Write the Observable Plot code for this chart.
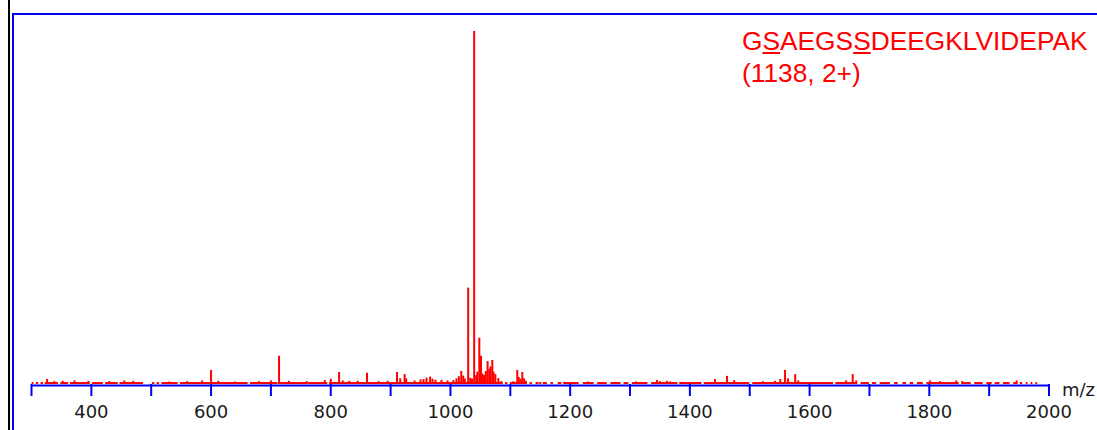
<!DOCTYPE html>
<html><head><meta charset="utf-8">
<script src="https://cdn.jsdelivr.net/npm/d3@7"></script>
<script src="https://cdn.jsdelivr.net/npm/@observablehq/plot@0.6"></script>
<style>
html,body{margin:0;padding:0;background:#fff;}
#wrap{position:relative;width:1097px;height:430px;overflow:hidden;background:#fff;}
#chart{position:absolute;left:0;top:0;}
#chart svg text{font-size:18px;}
.deco{position:absolute;}
#title{position:absolute;left:742px;top:25px;font-family:"Liberation Sans",Arial,sans-serif;font-size:26.3px;color:#ff0000;line-height:32px;white-space:nowrap;}
#title u{text-decoration-thickness:1.5px;text-underline-offset:2px;}
</style></head>
<body>
<div id="wrap">
  <div id="chart"></div>
  <div class="deco" style="left:8px;top:0;width:2px;height:430px;background:#000;"></div>
  <div class="deco" style="left:12px;top:13px;width:2px;height:417px;background:#0000ff;"></div>
  <div class="deco" style="left:12px;top:13px;width:1085px;height:2px;background:#0000ff;"></div>
  <div id="title"></div>
</div>
<script>
// Peptide annotation
const peptide = ["G", "S", "A", "E", "G", "S", "S", "D", "E", "E", "G", "K", "L", "V", "I", "D", "E", "P", "A", "K"];
const underlinedPositions = [1, 6];
const precursorLabel = "(1138, 2+)";
const axisName = ["m/z"];

// Axis ticks
const majorTicks = [300, 400, 500, 600, 700, 800, 900, 1000, 1100, 1200, 1300, 1400, 1500, 1600, 1700, 1800, 1900, 2000];
const tickLabels = [400, 600, 800, 1000, 1200, 1400, 1600, 1800, 2000];
const xExtent = [300, 2000];

// Peak list: m/z and relative intensity %
const peakMz = [
  326, 338, 352, 372, 395, 430, 455, 470, 530, 560, 585, 600, 612, 640, 680, 700, 713.6, 730, 760, 790,
  800, 813.9, 820, 831, 845, 860.6, 880, 895, 910.7, 916, 923.4, 926, 940, 950, 955, 960, 966, 970, 975, 985,
  995, 1005, 1010, 1014, 1018, 1021.4, 1024, 1029.6, 1033, 1036, 1039.6, 1043, 1045, 1048.2, 1051, 1053, 1056, 1059, 1062, 1064.9,
  1067, 1069.9, 1072, 1075, 1080, 1085, 1105, 1111.6, 1114, 1117, 1120, 1123, 1126, 1150, 1190, 1230, 1275, 1310, 1345, 1350,
  1361.6, 1367, 1384, 1400, 1417, 1442, 1462, 1474, 1522, 1542, 1551, 1559, 1564, 1576, 1581, 1661, 1672, 1678, 1801, 1818,
  1845, 1855, 1946
];
const peakIntensity = [
  1.4, 0.8, 0.9, 1.0, 0.9, 0.8, 1.0, 0.9, 0.7, 0.8, 1.0, 4.0, 0.9, 0.7, 0.8, 1.0, 8.0, 0.9, 0.8, 1.1,
  1.5, 3.4, 1.0, 0.9, 0.9, 3.2, 0.8, 0.9, 3.4, 1.6, 2.8, 1.6, 1.0, 1.3, 1.4, 1.8, 2.1, 1.5, 1.2, 1.2,
  1.0, 1.1, 1.6, 2.2, 3.7, 2.4, 1.5, 27.3, 1.8, 1.5, 100, 2.5, 3.5, 13.1, 8.0, 3.0, 2.6, 3.7, 6.5, 4.3,
  5.0, 6.8, 3.5, 2.8, 1.7, 0.8, 0.8, 4.0, 2.0, 1.5, 3.4, 1.6, 0.9, 0.6, 0.6, 0.7, 0.6, 0.7, 1.1, 0.8,
  0.9, 0.7, 0.6, 0.5, 0.6, 1.4, 2.3, 1.1, 0.8, 0.9, 1.4, 4.0, 1.6, 2.8, 1.0, 1.0, 2.8, 1.0, 1.0, 0.8,
  1.0, 0.8, 1.0
];

// Low-level noise stretches along the baseline: [from m/z, to m/z]
const noiseSegments = [
  [301,304],[308,312],[316,320],[323,345],[349,362],[365,398],[402,420],[424,445],[448,487],[502,506],
  [510,514],[518,545],[549,600],[602,662],[666,712],[716,760],[763,795],[798,1088],[1092,1096],[1100,1128],
  [1133,1137],[1143,1148],[1155,1162],[1168,1172],[1180,1186],[1192,1215],[1222,1240],[1246,1262],[1268,1285],[1290,1298],
  [1304,1330],[1336,1380],[1384,1420],[1424,1500],[1505,1640],[1644,1680],[1686,1700],[1705,1712],[1718,1735],[1742,1748],
  [1756,1762],[1768,1774],[1780,1790],[1796,1850],[1856,1870],[1876,1890],[1896,1905],[1910,1918],[1924,1935],[1941,1946],
  [1952,1956],[1962,1965],[1970,1973],[1978,1981]
];
const noiseLevel = 0.55;

const peaks = peakMz.map((mz, i) => ({mz, intensity: peakIntensity[i]}));
const noise = noiseSegments.map(([a, b]) => ({a, b}));

const chart = Plot.plot({
  width: 1097,
  height: 430,
  marginLeft: 31,
  marginRight: 48.5,
  marginTop: 31,
  marginBottom: 46,
  x: {domain: xExtent},
  y: {domain: [0, 100], axis: null},
  style: {background: "transparent", fontFamily: "'DejaVu Sans', sans-serif", fontSize: "18px", overflow: "visible"},
  marks: [
    Plot.rect(noise, {x1: "a", x2: "b", y1: 0, y2: noiseLevel, fill: "#ff0000"}),
    Plot.ruleX(peaks, {x: "mz", y1: 0, y2: "intensity", stroke: "#ff0000", strokeWidth: 2}),
    Plot.ruleY([0], {x1: xExtent[0], x2: xExtent[1], stroke: "#0000ff", strokeWidth: 2, dy: 1}),
    Plot.axisX(majorTicks, {tickSize: 12, stroke: "#0000ff", strokeWidth: 2, tickFormat: () => "", label: null}),
    Plot.axisX(tickLabels, {tickSize: 0, tickPadding: 21, fontSize: 18, fill: "#1a1a1a", tickFormat: d => String(d), label: null}),
    Plot.text(axisName, {x: xExtent[1], y: 0, text: d => d, dx: 13, dy: 6, textAnchor: "start", fontSize: 18, fill: "#1a1a1a"})
  ]
});
document.getElementById("chart").appendChild(chart);

// Title with underlined phosphosites
const title = document.getElementById("title");
const line1 = document.createElement("div");
peptide.forEach((aa, i) => {
  if (underlinedPositions.includes(i)) {
    const u = document.createElement("u");
    u.textContent = aa;
    line1.appendChild(u);
  } else {
    line1.appendChild(document.createTextNode(aa));
  }
});
const line2 = document.createElement("div");
line2.textContent = precursorLabel;
title.appendChild(line1);
title.appendChild(line2);
</script>
</body></html>
